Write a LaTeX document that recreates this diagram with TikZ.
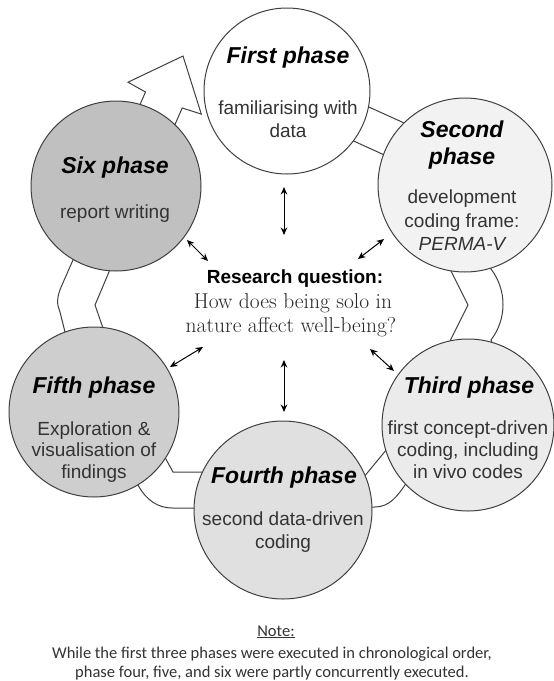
\documentclass[tikz,border=0pt]{standalone}
\usepackage{fontspec}
\setsansfont{Liberation Sans}
\newfontfamily\arialf{Liberation Sans}
\newfontfamily\notefont{Carlito}
\usetikzlibrary{arrows.meta}
\definecolor{cOne}{HTML}{FFFFFF}
\definecolor{cTwo}{HTML}{F2F2F2}
\definecolor{cThree}{HTML}{EBEBEB}
\definecolor{cFour}{HTML}{E0E0E0}
\definecolor{cFive}{HTML}{CECECE}
\definecolor{cSix}{HTML}{C0C0C0}
\definecolor{edge}{HTML}{404040}
\definecolor{txt}{HTML}{333333}
\tikzset{
  phase/.style={circle, draw=edge, line width=1pt, minimum size=#1, inner sep=0pt},
  ttl/.style={anchor=base, text=black, font=\arialf\bfseries\itshape\fontsize{23}{26}\selectfont},
  bod/.style={anchor=base, text=txt, font=\arialf\fontsize{19}{22}\selectfont},
  band/.style={draw=edge, fill=white, line width=1pt, line join=miter},
  dbl/.style={{Stealth[length=7.5pt,width=6.5pt]}-{Stealth[length=7.5pt,width=6.5pt]}, line width=1pt, draw=black},
  rqt/.style={anchor=base, text=black, font=\arialf\bfseries\fontsize{19}{22}\selectfont},
  rqs/.style={anchor=base, text=black!85, font=\rmfamily\fontsize{21.5}{24}\selectfont},
  notetxt/.style={anchor=base, text=txt, font=\notefont\fontsize{16.5}{19}\selectfont}
}
\begin{document}
\begin{tikzpicture}[x=1pt,y=-1pt]
\useasboundingbox (0,0) rectangle (554,681);
% connectors (bands) behind circles
\draw[band] (183,56) -- (201.3,114.1) -- (182.2,108.0) -- (169.4,137.3) -- (132.7,121.4) -- (145.5,92.0) -- (128.0,82.2) -- cycle;
\draw[band] (357.3,101.8) -- (415.7,128.2) -- (393.7,159.2) -- (344.3,136.8) -- cycle;
\draw[band] (447,263) -- (452,273) -- (468,305) -- (451,339) -- (446,350) -- (495,350) -- (491,340) .. controls (507,319) and (507,290) .. (491,269) -- (487,258) -- cycle;
\draw[band] (360,482) -- (368,472) -- (387,449) -- (394.6,439.7) -- (412,475) -- (405,485) .. controls (398,495) and (390,507) .. (375,507) -- (360,507) -- cycle;
\draw[band] (160,449) -- (167,461) -- (173,472) -- (215,472) -- (210,508) -- (172,508) .. controls (158,508) and (146,500) .. (138,485) -- (130,476) -- cycle;
\draw[band] (79,250) -- (73,260) -- (62,285) .. controls (56,298) and (57,305) .. (60,312) -- (65,332) -- (68,344) -- (105,340) -- (103,328) -- (95,305) -- (109,272) -- (111,260) -- cycle;
% circles
\node[phase=166pt, fill=cOne] (p1) at (287,91) {};
\node[phase=174pt, fill=cTwo] (p2) at (465,185) {};
\node[phase=172pt, fill=cThree] (p3) at (468,425) {};
\node[phase=178pt, fill=cFour] (p4) at (283,510) {};
\node[phase=170pt, fill=cFive] (p5) at (94,412) {};
\node[phase=170pt, fill=cSix] (p6) at (116,186) {};
% texts
\node[ttl] (p1t) at (288,63) {First phase};
\node[bod] (p1a) at (288,114) {familiarising with};
\node[bod] (p1b) at (288,137) {data};
\node[ttl] (p2t) at (462,137) {Second};
\node[ttl] (p2u) at (462,164) {phase};
\node[bod] (p2a) at (462,203) {development};
\node[bod] (p2b) at (462,227) {coding frame:};
\node[bod, font=\arialf\itshape\fontsize{19}{22}\selectfont] (p2c) at (462,250) {PERMA-V};
\node[ttl] (p3t) at (469,393) {Third phase};
\node[bod] (p3a) at (468,434) {first concept-driven};
\node[bod] (p3b) at (468,456) {coding, including};
\node[bod] (p3c) at (468,478) {in vivo codes};
\node[ttl] (p4t) at (284,483) {Fourth phase};
\node[bod] (p4a) at (283,525) {second data-driven};
\node[bod] (p4b) at (283,548) {coding};
\node[ttl] (p5t) at (94,393) {Fifth phase};
\node[bod] (p5a) at (94,435) {Exploration \&};
\node[bod] (p5b) at (94,456) {visualisation of};
\node[bod] (p5c) at (94,478) {findings};
\node[ttl] (p6t) at (115,173) {Six phase};
\node[bod] (p6a) at (115,218) {report writing};
% research question
\node[rqt] (rq) at (295,283) {Research question:};
\node[rqs] (rq2) at (293,308) {How does being solo in};
\node[rqs] (rq3) at (291,332) {nature affect well-being?};
% double arrows
\coordinate (a1s) at (284,187); \coordinate (a1e) at (284,235);
\coordinate (a2s) at (187,240); \coordinate (a2e) at (208,261);
\coordinate (a3s) at (384,239); \coordinate (a3e) at (358,259);
\coordinate (a4s) at (170,367); \coordinate (a4e) at (203,347);
\coordinate (a5s) at (370,349); \coordinate (a5e) at (394,371);
\coordinate (a6s) at (284,360); \coordinate (a6e) at (284,412);
\draw[dbl] (a1s) -- (a1e);
\draw[dbl] (a2s) -- (a2e);
\draw[dbl] (a3s) -- (a3e);
\draw[dbl] (a4s) -- (a4e);
\draw[dbl] (a5s) -- (a5e);
\draw[dbl] (a6s) -- (a6e);
% note
\node[notetxt] (n0) at (276,636) {\underline{Note:}};
\node[notetxt] (n1) at (272,658) {While the first three phases were executed in chronological order,};
\node[notetxt] (n2) at (272,677) {phase four, five, and six were partly concurrently executed.};
\end{tikzpicture}
\end{document}
